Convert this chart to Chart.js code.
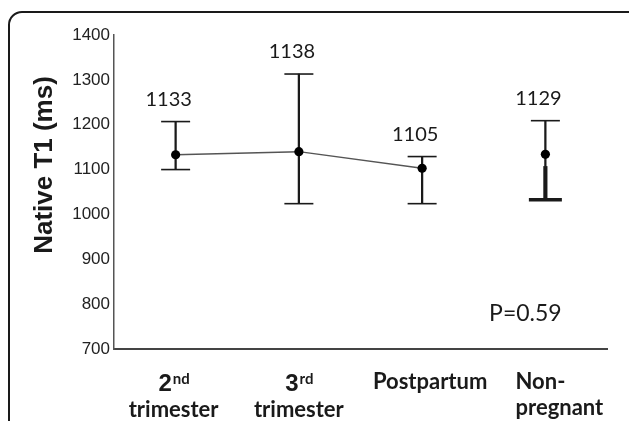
<!DOCTYPE html>
<html>
<head>
<meta charset="utf-8">
<script src="https://cdn.jsdelivr.net/npm/chart.js@4/dist/chart.umd.min.js"></script>
<style>
  html, body { margin: 0; padding: 0; background: #fff; overflow: hidden; }
  #wrap  { position: relative; width: 629px; height: 421px; }
  #frame {
    position: absolute; left: 8px; top: 11px; width: 700px; height: 500px;
    border: 2px solid #1a1a1a; border-radius: 14px; pointer-events: none;
  }
  canvas { position: absolute; left: 0; top: 0; }
</style>
</head>
<body>
<div id="wrap">
  <div id="frame"></div>
  <canvas id="t1Chart" width="629" height="421"></canvas>
</div>
<script>
// ── Data ──────────────────────────────────────────────────────────────────
var categories = ['2nd trimester', '3rd trimester', 'Postpartum', 'Non-pregnant'];
var meanLabels = ['1133', '1138', '1105', '1129'];
// plotted positions of the dots (ms)
var meanLine   = [1133, 1140, 1103, null];   // joined groups
var meanAlone  = [null, null, null, 1134];   // non-pregnant, not joined
// error bars (ms)
var upperCap   = [1207, 1313, 1129, 1209];
var lowerCap   = [1100, 1024, 1024, null];
var lowerThick = [null, null, null, 1033];
var whiskers   = [[1100, 1207], [1024, 1313], [1024, 1129], [1107, 1209]];
var thickWhisk = [null, null, null, [1033, 1107]];
var yTicks     = [700, 800, 900, 1000, 1100, 1200, 1300, 1400];
var axisTitle  = 'Native T1 (ms)';
var pText      = 'P=0.59';

// ── Styles ────────────────────────────────────────────────────────────────
var ink      = '#1a1a1a';
var labelDx  = [-2, 0, 8, 14];

// Text that is not a tick label: value labels, P value, y title, x labels
var textPlugin = {
  id: 'texts',
  afterDraw: function(chart) {
    var ctx  = chart.ctx;
    var area = chart.chartArea;
    var xs   = chart.scales.x;
    var ys   = chart.scales.y;
    var caps = chart.getDatasetMeta(2).data;
    ctx.save();
    ctx.fillStyle = ink;

    // value labels above the upper caps
    ctx.font = '20px Lato';
    ctx.textAlign = 'center';
    ctx.textBaseline = 'middle';
    meanLabels.forEach(function(txt, i) {
      ctx.fillText(txt, caps[i].x - 7, caps[i].y - 22);
    });

    // P value
    ctx.font = '23px Lato';
    ctx.fillText(pText, xs.getPixelForValue(3) - 20, ys.getPixelForValue(780));

    // x category labels
    categories.forEach(function(cat, i) {
      var cx = xs.getPixelForValue(i) + labelDx[i];
      var m = cat.match(/^(\d)(st|nd|rd|th) (.*)$/);
      var line1Base = area.bottom + 42;
      var line2Base = area.bottom + 68;
      ctx.textBaseline = 'alphabetic';
      if (m) {
        ctx.font = 'bold 24px "Liberation Sans"';
        var wNum = ctx.measureText(m[1]).width;
        ctx.font = 'bold 15px Lato';
        var wSup = ctx.measureText(m[2]).width;
        var left = cx - (wNum + wSup) / 2;
        ctx.textAlign = 'left';
        ctx.font = 'bold 24px "Liberation Sans"';
        ctx.fillText(m[1], left, line1Base);
        ctx.font = 'bold 15px Lato';
        ctx.fillText(m[2], left + wNum + 1, line1Base - 7);
        ctx.textAlign = 'center';
        ctx.font = 'bold 22px Lato';
        ctx.fillText(m[3], cx, line2Base);
      } else if (cat.indexOf('-') > 0) {
        var parts = cat.split('-');
        ctx.font = 'bold 22px Lato';
        var w2 = ctx.measureText(parts[1]).width;
        ctx.textAlign = 'left';
        ctx.fillText(parts[0] + '-', cx - w2 / 2, line1Base - 2);
        ctx.fillText(parts[1], cx - w2 / 2, line2Base - 2);
      } else {
        ctx.font = 'bold 22px Lato';
        ctx.textAlign = 'center';
        ctx.fillText(cat, cx, line1Base - 2);
      }
    });

    // rotated y axis title
    ctx.translate(45, area.top + 130);
    ctx.rotate(-Math.PI / 2);
    ctx.font = 'bold 26px "Liberation Sans"';
    ctx.textAlign = 'center';
    ctx.textBaseline = 'middle';
    ctx.fillText(axisTitle, 0, 0);
    ctx.restore();
  }
};

function capSet(data, radius, width) {
  return {
    type:             'line',
    data:             data,
    showLine:         false,
    pointStyle:       'line',
    pointRadius:      radius,
    pointHoverRadius: radius,
    pointBorderWidth: width,
    pointBorderColor: ink,
    borderColor:      ink,
    order:            2,
  };
}

new Chart(document.getElementById('t1Chart'), {
  type: 'bar',
  data: {
    labels: categories,
    datasets: [
      { type: 'bar', data: whiskers,   backgroundColor: ink, barThickness: 1.6, grouped: false, order: 3 },
      { type: 'bar', data: thickWhisk, backgroundColor: ink, barThickness: 3.5, grouped: false, order: 3 },
      capSet(upperCap, 14.5, 1.6),
      capSet(lowerCap, 14.5, 1.6),
      capSet(lowerThick, 16.5, 3.5),
      {
        type:                 'line',
        data:                 meanLine,
        borderColor:          '#555',
        borderWidth:          1.5,
        pointRadius:          4.6,
        pointBackgroundColor: '#000',
        pointBorderWidth:     0,
        tension:              0,
        spanGaps:             false,
        order:                1,
      },
      {
        type:                 'line',
        data:                 meanAlone,
        showLine:             false,
        pointRadius:          4.6,
        pointBackgroundColor: '#000',
        pointBorderWidth:     0,
        order:                1,
      },
    ]
  },
  options: {
    responsive: false,
    animation:  false,
    layout: { padding: { top: 35, right: 22, bottom: 0, left: 0 } },
    plugins: {
      legend:  { display: false },
      tooltip: { enabled: false },
    },
    scales: {
      x: {
        offset: true,
        grid:   { display: false, drawTicks: false },
        border: { display: true, color: '#444', width: 2 },
        ticks:  { display: false },
        afterFit: function(s) { s.height = 72; },
      },
      y: {
        min: 700,
        max: 1400,
        afterBuildTicks: function(s) {
          s.ticks = yTicks.map(function(v) { return { value: v }; });
        },
        grid:   { display: false, drawTicks: false },
        border: { display: true, color: '#555', width: 1.5 },
        ticks:  {
          color:    '#222',
          padding:  4,
          font:     { family: '"Liberation Sans"', size: 17 },
          callback: function(v) { return String(v); },
        },
        afterFit: function(s) { s.width = 114; },
      }
    }
  },
  plugins: [textPlugin]
});
</script>
</body>
</html>
